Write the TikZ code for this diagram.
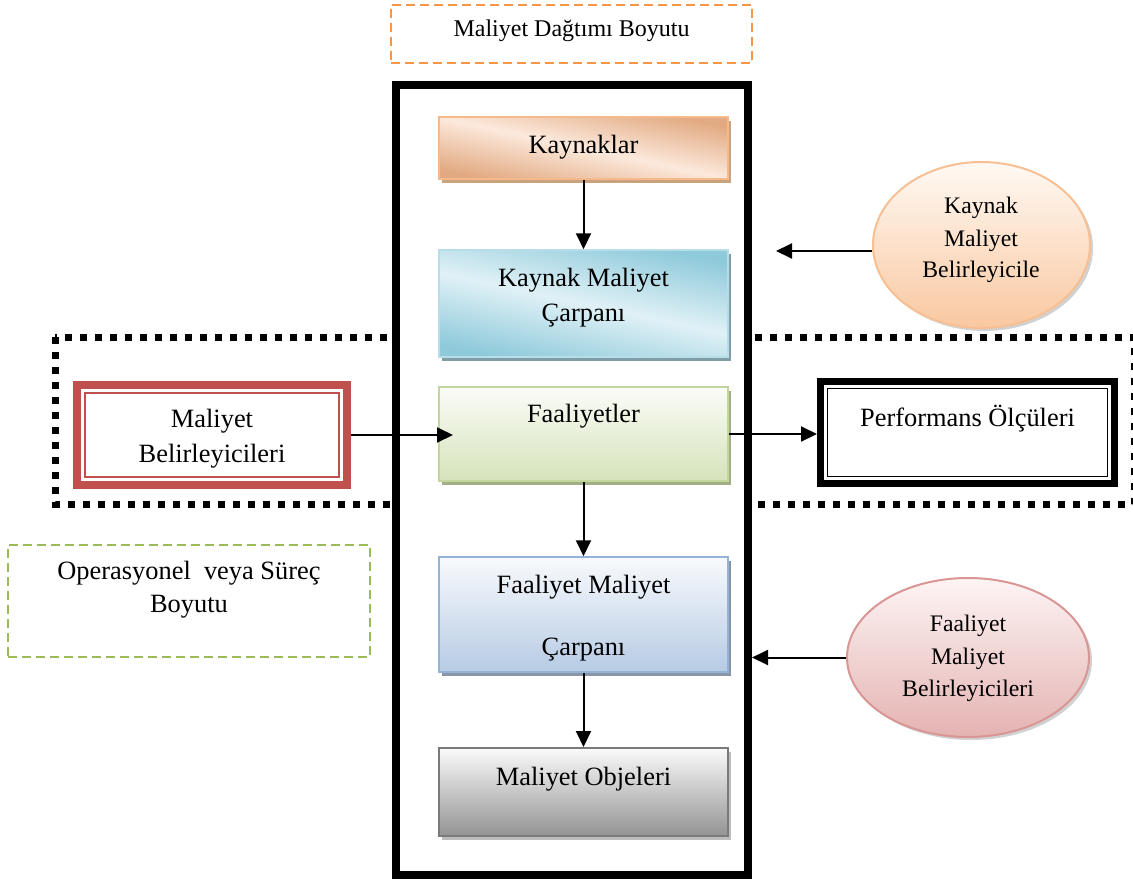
\documentclass[tikz,border=0pt]{standalone}
\usepackage{fontspec}
\setmainfont{Liberation Serif}
\usetikzlibrary{shapes.geometric,shadows,arrows.meta}

\definecolor{orangeD}{HTML}{F79646}
\definecolor{greenD}{HTML}{9BBB59}
\definecolor{redB}{HTML}{C0504D}
\definecolor{kayDark}{HTML}{E2AA82}
\definecolor{kayLight}{HTML}{FCE9DC}
\definecolor{kayLine}{HTML}{F6B98C}
\definecolor{kayShadow}{HTML}{C9A27E}
\definecolor{kmcDark}{HTML}{8FCADB}
\definecolor{kmcLight}{HTML}{E0F1F6}
\definecolor{kmcLine}{HTML}{B6DDE8}
\definecolor{kmcShadow}{HTML}{7F9EA8}
\definecolor{faalTop}{HTML}{FBFCF8}
\definecolor{faalBot}{HTML}{D5E3BA}
\definecolor{faalLine}{HTML}{C3D69B}
\definecolor{faalShadow}{HTML}{A3AD86}
\definecolor{fmcTop}{HTML}{F8FAFD}
\definecolor{fmcBot}{HTML}{B7CBE4}
\definecolor{fmcLine}{HTML}{95B3D7}
\definecolor{fmcShadow}{HTML}{8896A8}
\definecolor{moTop}{HTML}{FAFAFA}
\definecolor{moBot}{HTML}{939393}
\definecolor{moLine}{HTML}{7A7A7A}
\definecolor{moShadow}{HTML}{BDBDBD}
\definecolor{eaTop}{HTML}{FFF9F4}
\definecolor{eaBot}{HTML}{F9C8A0}
\definecolor{eaLine}{HTML}{F8BF92}
\definecolor{ebTop}{HTML}{FDF4F4}
\definecolor{ebBot}{HTML}{E4B3B2}
\definecolor{ebLine}{HTML}{D99694}

\begin{document}
\begin{tikzpicture}[x=1pt,y=-1pt,
  every node/.style={inner sep=0pt},
  flowbox/.style={draw=#1, line width=1.5pt, minimum width=289pt},
  boxshadow/.style={drop shadow={shadow xshift=3pt, shadow yshift=-4pt, fill=#1, opacity=1}},
  diag/.style 2 args={top color=#1, bottom color=#1, middle color=#2, shading angle=-12},
  vert/.style 2 args={top color=#1, bottom color=#2},
  oval/.style={ellipse, draw=#1, line width=2pt,
    drop shadow={shadow xshift=3pt, shadow yshift=-3pt, fill=black, opacity=0.18}},
  txt/.style={anchor=base, font=\fontsize{26.4}{35}\selectfont},
  otxt/.style={anchor=base, font=\fontsize{23.7}{32}\selectfont},
  arr/.style={line width=2pt, -{Triangle[length=16pt,width=15pt]}}
]
\useasboundingbox (0,0) rectangle (1133,883);

% dotted band of the operational dimension
\draw[line width=7pt, dash pattern=on 7pt off 8pt] (55,337) rectangle (1134,504);

% heavy frame of the cost allocation dimension
\node[draw, line width=8pt, fill=white, minimum width=352pt, minimum height=789.5pt]
  (frame) at (572,479.75) {};

% dimension captions
\node[draw=orangeD, line width=2pt, dash pattern=on 9pt off 5pt,
  minimum width=361pt, minimum height=58pt] (dimA) at (571.5,34) {};
\node[txt, font=\fontsize{24}{30}\selectfont] (dimAt) at (571.5,36.7) {Maliyet Dağtımı Boyutu};

\node[draw=greenD, line width=2pt, dash pattern=on 9pt off 5pt,
  minimum width=362pt, minimum height=112pt] (dimB) at (189,601) {};
\node[txt] (dimBt1) at (189,579.5) {Operasyonel\ \ veya Süreç};
\node[txt] (dimBt2) at (189,612.7) {Boyutu};

% central chain
\node[flowbox=kayLine, minimum height=62pt, diag={kayDark}{kayLight}, boxshadow=kayShadow]
  (kay) at (583.5,148) {};
\node[txt] (kayt) at (583.5,153.3) {Kaynaklar};

\node[flowbox=kmcLine, minimum height=107pt, diag={kmcDark}{kmcLight}, boxshadow=kmcShadow]
  (kmc) at (583.5,303.5) {};
\node[txt] (kmct1) at (583.5,286.7) {Kaynak Maliyet};
\node[txt] (kmct2) at (583.5,321.7) {Çarpanı};

\node[flowbox=faalLine, minimum height=94pt, vert={faalTop}{faalBot}, boxshadow=faalShadow]
  (faal) at (583.5,434) {};
\node[txt] (faalt) at (583.5,422.7) {Faaliyetler};

\node[flowbox=fmcLine, minimum height=115pt, vert={fmcTop}{fmcBot}, boxshadow=fmcShadow]
  (fmc) at (583.5,614.5) {};
\node[txt] (fmct1) at (583.5,593.3) {Faaliyet Maliyet};
\node[txt] (fmct2) at (583.5,655) {Çarpanı};

\node[flowbox=moLine, line width=2pt, minimum height=88pt, vert={moTop}{moBot}, boxshadow=moShadow]
  (mo) at (583.5,792) {};
\node[txt] (mot) at (583.5,785) {Maliyet Objeleri};

% cost drivers (left) and performance measures (right)
\node[draw=redB, line width=8pt, fill=white, minimum width=270pt, minimum height=100pt]
  (mb) at (212,435) {};
\draw[redB, line width=1.5pt] ([shift={(12,12)}]mb.north west) rectangle ([shift={(-12,-12)}]mb.south east);
\node[txt] (mbt1) at (212,427.3) {Maliyet};
\node[txt] (mbt2) at (212,462.7) {Belirleyicileri};

\node[draw, line width=7pt, fill=white, minimum width=294pt, minimum height=102pt]
  (perf) at (967.5,432.5) {};
\draw[line width=1.5pt] ([shift={(10.5,10.5)}]perf.north west) rectangle ([shift={(-10.5,-10.5)}]perf.south east);
\node[txt] (perft) at (967.5,426) {Performans Ölçüleri};

% driver ovals
\node[oval=eaLine, vert={eaTop}{eaBot}, minimum width=217pt, minimum height=166pt]
  (e1) at (981.5,245) {};
\node[otxt] (e1t1) at (981,213.3) {Kaynak};
\node[otxt] (e1t2) at (981,246) {Maliyet};
\node[otxt] (e1t3) at (981,277.3) {Belirleyicile};

\node[oval=ebLine, vert={ebTop}{ebBot}, minimum width=242pt, minimum height=159pt]
  (e2) at (968,657.5) {};
\node[otxt] (e2t1) at (968,631.7) {Faaliyet};
\node[otxt] (e2t2) at (968,664) {Maliyet};
\node[otxt] (e2t3) at (968,696) {Belirleyicileri};

% connectors
\coordinate (faalin) at (453,435);
\coordinate (e1tip) at (776,251);
\draw[arr] (kay.south) -- (kmc.north);
\draw[arr] (faal.south) -- (fmc.north);
\draw[arr] (fmc.south) -- (mo.north);
\draw[arr] (mb.east) -- (faalin);
\draw[arr] (faal.east) -- (faal.east -| perf.west);
\draw[arr] (e1.west |- e1tip) -- (e1tip);
\draw[arr] (e2.west) -- (e2.west -| frame.east);
\end{tikzpicture}
\end{document}
